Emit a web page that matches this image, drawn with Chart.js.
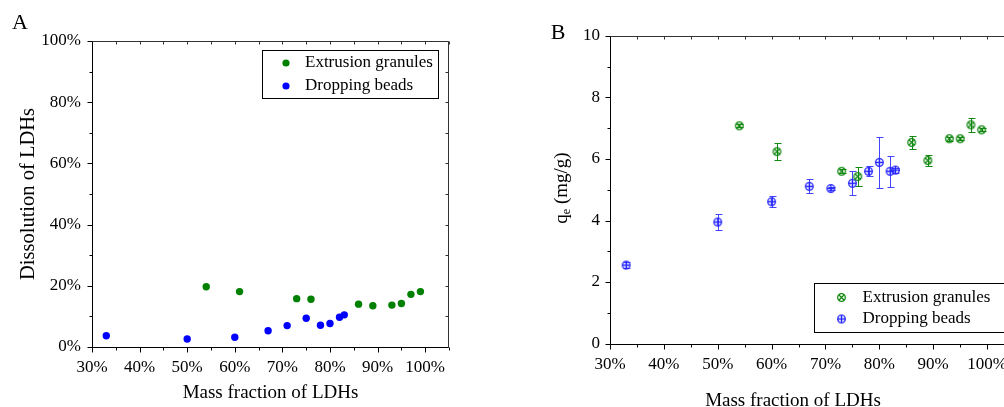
<!DOCTYPE html>
<html>
<head>
<meta charset="utf-8">
<script src="https://cdn.jsdelivr.net/npm/chart.js"></script>
<style>
  html, body { margin: 0; padding: 0; background: #fff; overflow: hidden; }
  #wrap { position: relative; width: 1004px; height: 407px; overflow: hidden; }
  canvas { position: absolute; top: 0; }
  #chartA { left: 0; }
  #chartB { left: 520px; }
</style>
</head>
<body>
<div id="wrap">
  <canvas id="chartA" width="520" height="407"></canvas>
  <canvas id="chartB" width="540" height="407"></canvas>
</div>
<script>
// data
const seriesLabels = ['Extrusion granules', 'Dropping beads'];

const granuleMass = [54, 61, 73, 76, 86, 89, 93, 95, 97, 99];
const beadMass = [33, 50, 60, 67, 71, 75, 78, 80, 82, 83];

// panel A: dissolution of LDHs (%)
const granuleDissolution = [19.7, 18.1, 15.8, 15.6, 14.0, 13.5, 13.7, 14.2, 17.2, 18.1];
const beadDissolution = [3.7, 2.6, 3.2, 5.3, 7.0, 9.4, 7.1, 7.7, 9.7, 10.5];

// panel B: qe (mg/g) with error bars
const granuleQe = [7.08, 6.24, 5.60, 5.43, 6.54, 5.95, 6.66, 6.66, 7.11, 6.95];
const granuleQeErr = [0.05, 0.28, 0.06, 0.30, 0.22, 0.18, 0.06, 0.05, 0.22, 0.05];
const beadQe = [2.55, 3.95, 4.61, 5.11, 5.04, 5.21, 5.60, 5.89, 5.60, 5.64];
const beadQeErr = [0.10, 0.27, 0.18, 0.23, 0.05, 0.39, 0.16, 0.84, 0.51, 0.08];

// tick labels
const massTicks = [30, 40, 50, 60, 70, 80, 90, 100];
const dissolutionTicks = [0, 20, 40, 60, 80, 100];
const qeTicks = [0, 2, 4, 6, 8, 10];

const SERIF = '"Liberation Serif", "Times New Roman", serif';
const GREEN = '#008000', BLUE = '#0000ff';
const GREEN_B = '#118811', BLUE_B = '#2424ff';

function pts(xs, ys) {
  return xs.map((x, i) => ({ x: x, y: ys[i] }));
}

// small hollow circle with a cross inside (⊕ or ⊗)
function makeMarker(color, rotated) {
  const c = document.createElement('canvas');
  c.width = 11; c.height = 11;
  const g = c.getContext('2d');
  g.strokeStyle = color;
  g.lineWidth = 1.3;
  g.beginPath();
  g.arc(5.5, 5.5, 3.8, 0, Math.PI * 2);
  g.stroke();
  g.beginPath();
  if (rotated) {
    const d = 2.7;
    g.moveTo(5.5 - d, 5.5 - d); g.lineTo(5.5 + d, 5.5 + d);
    g.moveTo(5.5 + d, 5.5 - d); g.lineTo(5.5 - d, 5.5 + d);
  } else {
    g.moveTo(5.5, 1.7); g.lineTo(5.5, 9.3);
    g.moveTo(1.7, 5.5); g.lineTo(9.3, 5.5);
  }
  g.stroke();
  return c;
}
const granuleMarker = makeMarker(GREEN_B, true);
const beadMarker = makeMarker(BLUE_B, false);

function setTicks(values) {
  return function (scale) { scale.ticks = values.map(v => ({ value: v })); };
}

function minorOf(scale) {
  const major = scale.ticks.map(t => t.value);
  const step = major[1] - major[0];
  return major.map(v => v + step / 2).filter(v => v <= scale.max + 1e-9);
}

// axis box with ticks, no grid
const frame = {
  id: 'frame',
  beforeDatasetsDraw(chart) {
    const { ctx, chartArea: a, scales: { x, y } } = chart;
    const L = Math.round(a.left) + 0.5, R = Math.round(a.right) - 0.5;
    const T = Math.round(a.top) + 0.5, B = Math.round(a.bottom) + 0.5;
    const xMaj = x.ticks.map(t => t.value), yMaj = y.ticks.map(t => t.value);
    const xMin = minorOf(x), yMin = minorOf(y);
    ctx.save();
    ctx.lineWidth = 1;

    ctx.strokeStyle = '#333';
    ctx.beginPath();
    ctx.moveTo(L, T); ctx.lineTo(R, T); ctx.lineTo(R, B);
    xMaj.concat(xMin).forEach(v => {
      const px = Math.round(x.getPixelForValue(v)) + 0.5;
      ctx.moveTo(px, T); ctx.lineTo(px, T + 3);
    });
    yMaj.concat(yMin).forEach(v => {
      const py = Math.round(y.getPixelForValue(v)) + 0.5;
      ctx.moveTo(R, py); ctx.lineTo(R - 3, py);
    });
    ctx.stroke();

    ctx.strokeStyle = '#000';
    ctx.beginPath();
    ctx.moveTo(L, T); ctx.lineTo(L, B); ctx.lineTo(R, B);
    xMaj.forEach(v => {
      const px = Math.round(x.getPixelForValue(v)) + 0.5;
      ctx.moveTo(px, B); ctx.lineTo(px, B + 5);
    });
    xMin.forEach(v => {
      const px = Math.round(x.getPixelForValue(v)) + 0.5;
      ctx.moveTo(px, B); ctx.lineTo(px, B + 3);
    });
    yMaj.forEach(v => {
      const py = Math.round(y.getPixelForValue(v)) + 0.5;
      ctx.moveTo(L, py); ctx.lineTo(L - 5, py);
    });
    yMin.forEach(v => {
      const py = Math.round(y.getPixelForValue(v)) + 0.5;
      ctx.moveTo(L, py); ctx.lineTo(L - 3, py);
    });
    ctx.stroke();
    ctx.restore();
  }
};

const errorBars = {
  id: 'errorBars',
  beforeDatasetsDraw(chart) {
    const { ctx, scales: { x, y } } = chart;
    chart.data.datasets.forEach(ds => {
      if (!ds.errors) return;
      ctx.save();
      ctx.strokeStyle = ds.errorColor;
      ctx.lineWidth = 1;
      ctx.beginPath();
      ds.data.forEach((p, i) => {
        const e = ds.errors[i];
        const px = Math.round(x.getPixelForValue(p.x)) + 0.5;
        const top = Math.round(y.getPixelForValue(p.y + e)) + 0.5;
        const bot = Math.round(y.getPixelForValue(p.y - e)) + 0.5;
        ctx.moveTo(px, top); ctx.lineTo(px, bot);
        ctx.moveTo(px - 3, top); ctx.lineTo(px + 4, top);
        ctx.moveTo(px - 3, bot); ctx.lineTo(px + 4, bot);
      });
      ctx.stroke();
      ctx.restore();
    });
  }
};

// boxed legend, panel letter and hand placed titles
const decor = {
  id: 'decor',
  afterDraw(chart, args, o) {
    const ctx = chart.ctx;
    ctx.save();
    ctx.fillStyle = '#000';
    ctx.textBaseline = 'middle';
    ctx.textAlign = 'center';
    ctx.font = '22px ' + SERIF;
    ctx.fillText(o.letter[0], o.letter[1], o.letter[2]);

    if (o.xTitle) {
      ctx.font = '19px ' + SERIF;
      ctx.fillText(o.xTitle[0], o.xTitle[1], o.xTitle[2]);
    }
    if (o.qeTitle) {
      const [cx, cy] = o.qeTitle;
      const big = '19px ' + SERIF, small = '12px ' + SERIF;
      ctx.font = big;
      const wq = ctx.measureText('q').width, wr = ctx.measureText(' (mg/g)').width;
      ctx.font = small;
      const we = ctx.measureText('e').width;
      ctx.translate(cx, cy);
      ctx.rotate(-Math.PI / 2);
      ctx.textAlign = 'left';
      let sx = -(wq + we + wr) / 2;
      ctx.font = big; ctx.fillText('q', sx, 0); sx += wq;
      ctx.font = small; ctx.fillText('e', sx, 5); sx += we;
      ctx.font = big; ctx.fillText(' (mg/g)', sx, 0);
      ctx.setTransform(1, 0, 0, 1, 0, 0);
    }

    const lg = o.legend;
    ctx.strokeStyle = '#000';
    ctx.lineWidth = 1;
    ctx.strokeRect(lg.x + 0.5, lg.y + 0.5, lg.w, lg.h);
    ctx.textAlign = 'left';
    ctx.font = '17px ' + SERIF;
    chart.data.datasets.forEach((ds, i) => {
      const ry = lg.y + lg.row0 + i * lg.rowGap;
      if (ds.pointStyle instanceof HTMLCanvasElement) {
        ctx.drawImage(ds.pointStyle, lg.mx - 5.5, ry - 5.5);
      } else {
        ctx.fillStyle = ds.backgroundColor;
        ctx.beginPath();
        ctx.arc(lg.mx, ry, 3.6, 0, Math.PI * 2);
        ctx.fill();
      }
      ctx.fillStyle = '#000';
      ctx.fillText(ds.label, lg.tx, ry);
    });
    ctx.restore();
  }
};

const tickFont = { family: SERIF, size: 17 };

new Chart(document.getElementById('chartA'), {
  type: 'scatter',
  data: {
    datasets: [
      { label: seriesLabels[0], data: pts(granuleMass, granuleDissolution),
        backgroundColor: GREEN, pointRadius: 3.7, pointBorderWidth: 0 },
      { label: seriesLabels[1], data: pts(beadMass, beadDissolution),
        backgroundColor: BLUE, pointRadius: 3.7, pointBorderWidth: 0 }
    ]
  },
  options: {
    responsive: false,
    animation: false,
    devicePixelRatio: 1,
    layout: { padding: { top: 41, right: 71, left: 0, bottom: 0 } },
    scales: {
      x: {
        type: 'linear', min: 30, max: 105,
        afterBuildTicks: setTicks(massTicks),
        afterFit(s) { s.height = 60; },
        grid: { display: false, drawTicks: false },
        border: { display: false },
        ticks: { font: tickFont, color: '#000', padding: 10, maxRotation: 0,
          callback: v => v + '%' },
        title: { display: true, text: 'Mass fraction of LDHs', color: '#000',
          font: { family: SERIF, size: 19 }, padding: { top: 0, bottom: 3 } }
      },
      y: {
        type: 'linear', min: 0, max: 100,
        afterBuildTicks: setTicks(dissolutionTicks),
        afterFit(s) { s.width = 92; },
        grid: { display: false, drawTicks: false },
        border: { display: false },
        ticks: { font: tickFont, color: '#000', padding: 11,
          callback: v => v + '%' },
        title: { display: true, text: 'Dissolution of LDHs', color: '#000',
          font: { family: SERIF, size: 20.5 }, padding: { top: 16.5, bottom: 0 } }
      }
    },
    plugins: {
      legend: { display: false },
      tooltip: { enabled: false },
      decor: {
        letter: ['A', 20, 23],
        legend: { x: 262, y: 50, w: 176, h: 48, row0: 13, rowGap: 23, mx: 286, tx: 305 }
      }
    }
  },
  plugins: [frame, decor]
});

new Chart(document.getElementById('chartB'), {
  type: 'scatter',
  data: {
    datasets: [
      { label: seriesLabels[0], data: pts(granuleMass, granuleQe), errors: granuleQeErr,
        errorColor: GREEN_B, pointStyle: granuleMarker, pointRadius: 4 },
      { label: seriesLabels[1], data: pts(beadMass, beadQe), errors: beadQeErr,
        errorColor: 'rgba(36,36,255,0.85)', pointStyle: beadMarker, pointRadius: 4 }
    ]
  },
  options: {
    responsive: false,
    animation: false,
    devicePixelRatio: 1,
    layout: { padding: { top: 36, right: 46, left: 0, bottom: 0 } },
    scales: {
      x: {
        type: 'linear', min: 30, max: 105,
        afterBuildTicks: setTicks(massTicks),
        afterFit(s) { s.height = 63.5; },
        grid: { display: false, drawTicks: false },
        border: { display: false },
        ticks: { font: tickFont, color: '#000', padding: 11, maxRotation: 0,
          callback: v => v + '%' }
      },
      y: {
        type: 'linear', min: 0, max: 10,
        afterBuildTicks: setTicks(qeTicks),
        afterFit(s) { s.width = 90; },
        grid: { display: false, drawTicks: false },
        border: { display: false },
        ticks: { font: tickFont, color: '#000', padding: 10 }
      }
    },
    plugins: {
      legend: { display: false },
      tooltip: { enabled: false },
      decor: {
        letter: ['B', 38, 33],
        xTitle: ['Mass fraction of LDHs', 273, 401],
        qeTitle: [42, 188],
        legend: { x: 294, y: 283, w: 260, h: 49, row0: 14.5, rowGap: 21.5, mx: 321.5, tx: 342.5 }
      }
    }
  },
  plugins: [errorBars, frame, decor]
});
</script>
</body>
</html>
